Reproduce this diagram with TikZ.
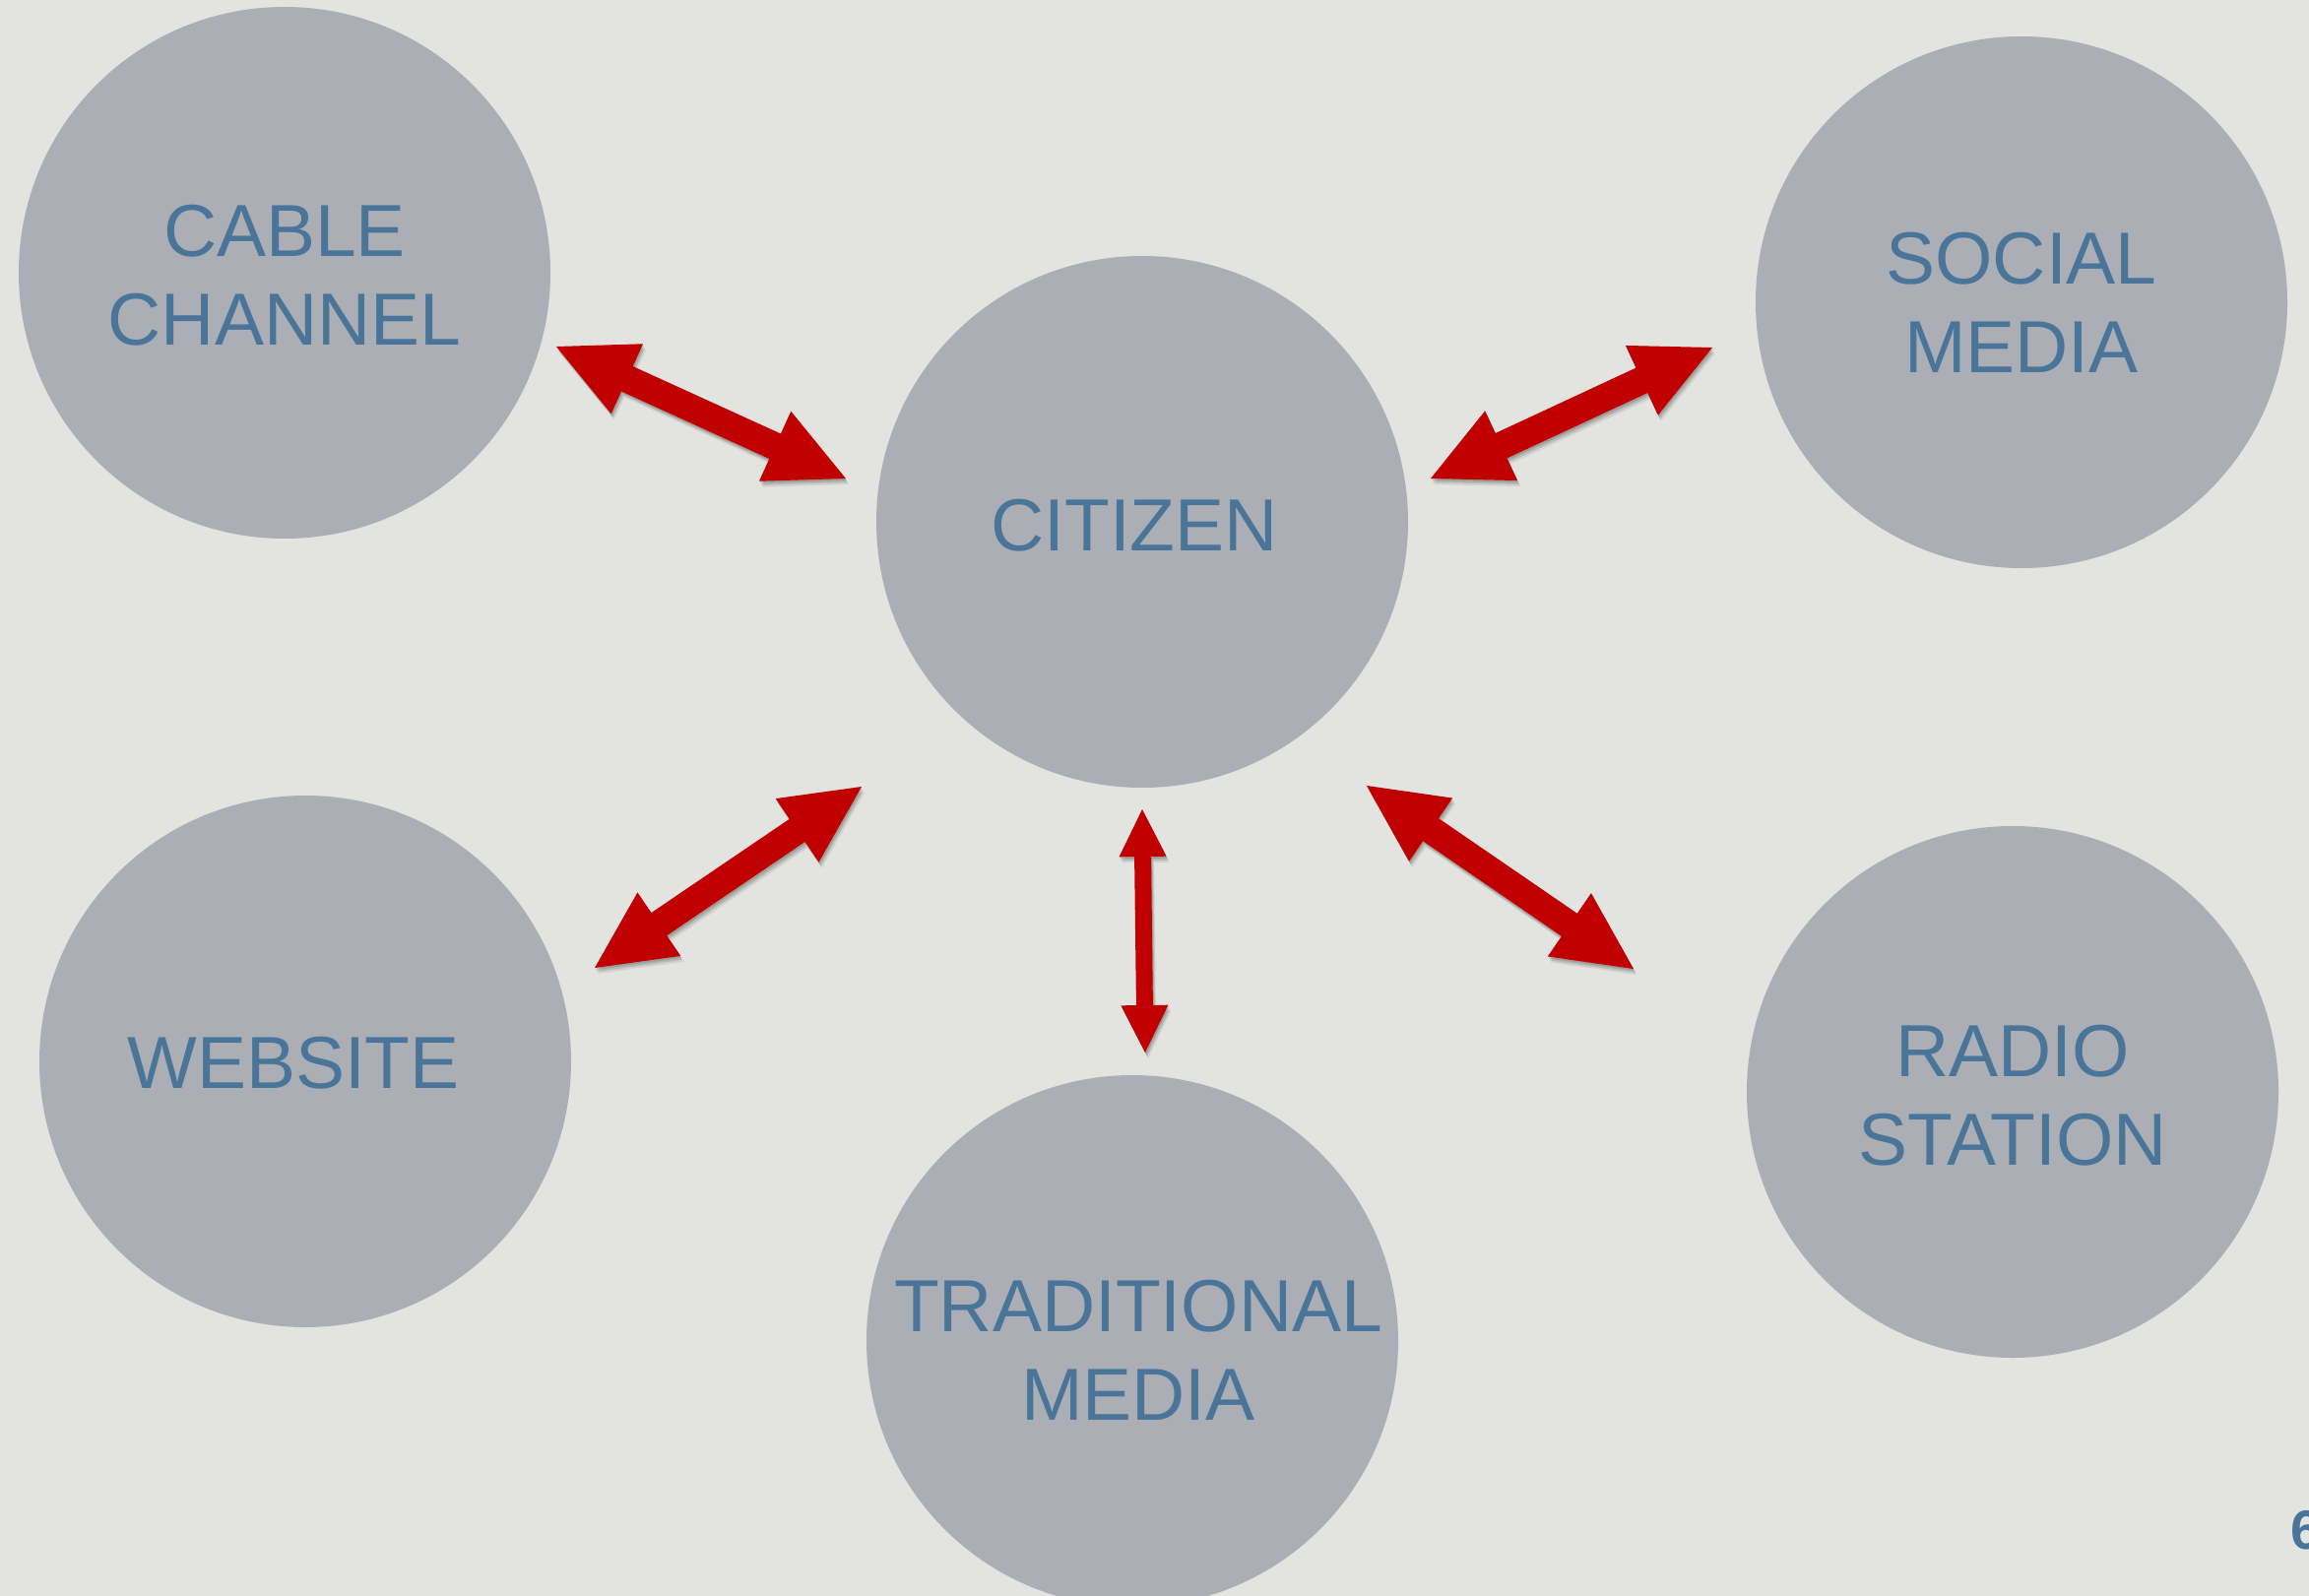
\documentclass[tikz,border=0pt]{standalone}
\usepackage{fontspec}
\setmainfont{Liberation Sans}
\usetikzlibrary{calc}
\definecolor{bgcol}{HTML}{E3E3DF}
\definecolor{circcol}{HTML}{ABAFB5}
\definecolor{txtcol}{HTML}{4A7598}
\definecolor{arrred}{HTML}{C00000}
\newcommand\arrowshape[5]{%
  (#1) -- ($(P)!#5!90:(#2)$) -- ($(P)!#3!90:(#2)$)
    -- ($(Q)!#3!-90:(#1)$) -- ($(Q)!#5!-90:(#1)$) -- (#2)
    -- ($(Q)!#5!90:(#1)$) -- ($(Q)!#3!90:(#1)$)
    -- ($(P)!#3!-90:(#2)$) -- ($(P)!#5!-90:(#2)$) -- cycle}
\newcommand\dblarrow[5]{%
  \path ($(#1)!#4!(#2)$) coordinate (P) ($(#2)!#4!(#1)$) coordinate (Q);
  \fill[shadowfill,opacity=0.08,transform canvas={shift={(3pt,-6pt)}}] \arrowshape{#1}{#2}{#3}{#4}{#5};
  \fill[shadowfill,opacity=0.12,transform canvas={shift={(2pt,-4pt)}}] \arrowshape{#1}{#2}{#3}{#4}{#5};
  \fill[shadowfill,opacity=0.14,transform canvas={shift={(1pt,-2pt)}}] \arrowshape{#1}{#2}{#3}{#4}{#5};
  \fill[arrowfill] \arrowshape{#1}{#2}{#3}{#4}{#5};
}
\begin{document}
\begin{tikzpicture}[x=1pt,y=-1pt,
  bubble/.style={circle,fill=circcol,minimum size=540pt,inner sep=0pt},
  label/.style={text=txtcol,align=center,inner sep=0pt,font=\fontsize{75}{90}\selectfont},
  shadowfill/.style={fill=black},
  arrowfill/.style={fill=arrred}]
\useasboundingbox (0,0) rectangle (2345,1621);
\fill[bgcol] (0,0) rectangle (2345,1621);
\clip (0,0) rectangle (2345,1621);
% circles
\node[bubble] (cable) at (289,277) {};
\node[bubble] (citizen) at (1160,530) {};
\node[bubble] (social) at (2053,307) {};
\node[bubble] (website) at (310,1078) {};
\node[bubble] (trad) at (1150,1362) {};
\node[bubble] (radio) at (2044,1109) {};
% labels
\node[label] (cableT) at (289,280) {CABLE\\CHANNEL};
\node[label] (citizenT) at (1152,534) {CITIZEN};
\node[label] (socialT) at (2053,307) {SOCIAL\\MEDIA};
\node[label] (websiteT) at (298,1080) {WEBSITE};
\node[label] (tradT) at (1156,1371) {TRADITIONAL\\MEDIA};
\node[label] (radioT) at (2044,1113) {RADIO\\STATION};
% arrow ends
\coordinate (a1) at (565,352);  \coordinate (b1) at (859,486);
\coordinate (a2) at (1453,486); \coordinate (b2) at (1739,353);
\coordinate (a3) at (604,983);  \coordinate (b3) at (875,799);
\coordinate (a4) at (1388,798); \coordinate (b4) at (1659,984);
\coordinate (a5) at (1160,822); \coordinate (b5) at (1163,1069);
\dblarrow{a1}{b1}{14pt}{79pt}{39pt}
\dblarrow{a2}{b2}{14pt}{79pt}{39pt}
\dblarrow{a3}{b3}{14pt}{79pt}{39pt}
\dblarrow{a4}{b4}{14pt}{79pt}{39pt}
\dblarrow{a5}{b5}{8.5pt}{48pt}{24pt}
% page number
\node[anchor=base west,inner sep=0pt,text=txtcol,font=\fontsize{56}{60}\selectfont\bfseries] (pagenum) at (2326,1573) {6};
\end{tikzpicture}
\end{document}
